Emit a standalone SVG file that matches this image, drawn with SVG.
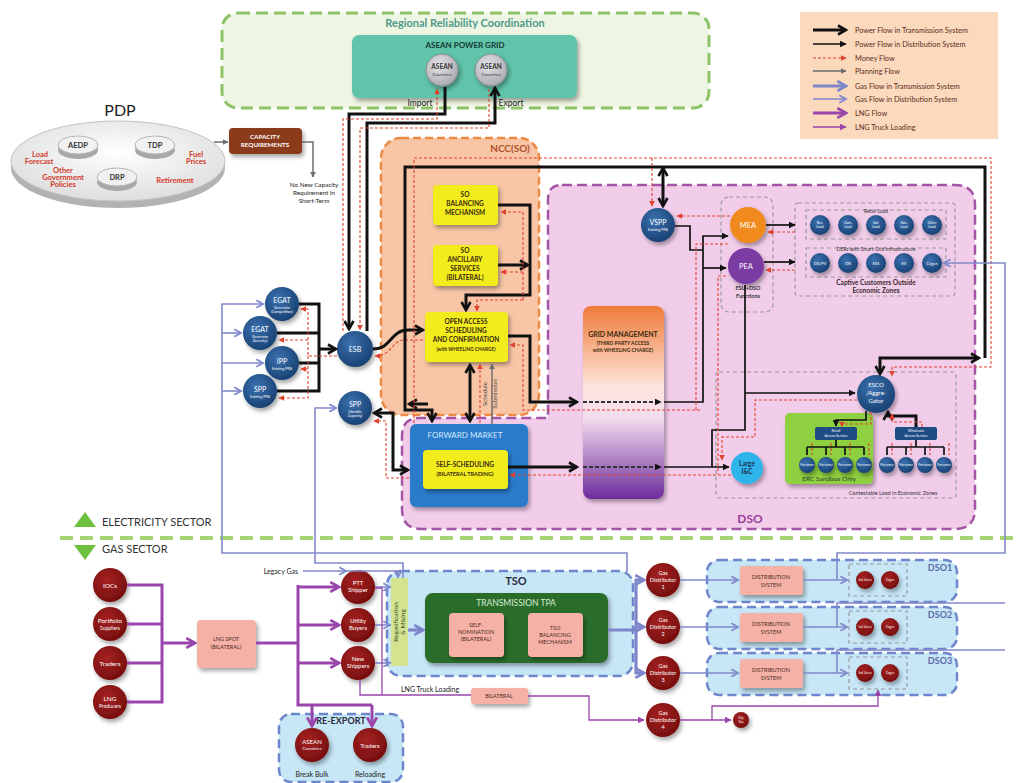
<svg xmlns="http://www.w3.org/2000/svg" width="1019" height="783" viewBox="0 0 1019 783">
<style>
text{font-family:Lato,"Open Sans","Liberation Sans",sans-serif}
.k3{fill:none;stroke:#111;stroke-width:3}
.k2{fill:none;stroke:#111;stroke-width:1.7}
.kd{fill:none;stroke:#333;stroke-width:2;stroke-dasharray:4 2}
.m{fill:none;stroke:#e2412e;stroke-width:1.1;stroke-dasharray:3 2}
.pl{fill:none;stroke:#6d6d6d;stroke-width:1.5}
.g3{fill:none;stroke:#7e86cb;stroke-width:3.2}
.g2{fill:none;stroke:#8189cc;stroke-width:1.6}
.l3{fill:none;stroke:#9a45ab;stroke-width:3}
.l1{fill:none;stroke:#9a45ab;stroke-width:1.3}
.bn{fill:url(#gb);filter:url(#sh)}
.rn{fill:url(#gr);filter:url(#sh)}
.wt{fill:#fff;text-anchor:middle}
.c{text-anchor:middle}
.yb{fill:#f2ec1e;filter:url(#sh)}
.pk{fill:#f6b1a6;filter:url(#sh)}
.dk{fill:#3a2a10;text-anchor:middle;font-weight:700}
.gbox{fill:#c7e6f6;stroke:#6d86cc;stroke-width:2.5;stroke-dasharray:9 5}
.gd{fill:none;stroke:#9a9a9a;stroke-width:1.2;stroke-dasharray:4 3}
.red{fill:#d2382a;font-weight:700;text-anchor:middle;font-size:7.5px}
.lg{fill:#5b2b22;font-size:7.3px}
</style>
<defs>
<filter id="sh" x="-30%" y="-30%" width="170%" height="170%"><feDropShadow dx="2" dy="3" stdDeviation="2" flood-color="#000" flood-opacity="0.35"/></filter>
<radialGradient id="gb" cx="0.4" cy="0.35" r="0.7"><stop offset="0" stop-color="#3b71b0"/><stop offset="1" stop-color="#173f70"/></radialGradient>
<radialGradient id="gr" cx="0.4" cy="0.35" r="0.7"><stop offset="0" stop-color="#a52222"/><stop offset="1" stop-color="#740d0d"/></radialGradient>
<radialGradient id="gs" cx="0.4" cy="0.35" r="0.7"><stop offset="0" stop-color="#e4e4e8"/><stop offset="1" stop-color="#a8a8ae"/></radialGradient>
<radialGradient id="gp" cx="0.5" cy="0.4" r="0.6"><stop offset="0" stop-color="#ffffff"/><stop offset="1" stop-color="#dedede"/></radialGradient>
<linearGradient id="gm" x1="0" y1="0" x2="0" y2="1"><stop offset="0" stop-color="#f07a38"/><stop offset="0.42" stop-color="#fde6dc"/><stop offset="0.58" stop-color="#f3dcee"/><stop offset="1" stop-color="#6d2c9c"/></linearGradient>
<marker id="a3" viewBox="0 0 12 12" refX="10" refY="6" markerWidth="12" markerHeight="12" markerUnits="userSpaceOnUse" orient="auto-start-reverse"><path d="M2,1.5 L10,6 L2,10.5" fill="none" stroke="#111" stroke-width="2.6"/></marker>
<marker id="a2" viewBox="0 0 10 10" refX="9" refY="5" markerWidth="7" markerHeight="7" markerUnits="userSpaceOnUse" orient="auto-start-reverse"><path d="M0,0 L10,5 L0,10 Z" fill="#111"/></marker>
<marker id="ar" viewBox="0 0 10 10" refX="9" refY="5" markerWidth="6" markerHeight="6" markerUnits="userSpaceOnUse" orient="auto-start-reverse"><path d="M0,0 L10,5 L0,10 Z" fill="#e2412e"/></marker>
<marker id="ag" viewBox="0 0 10 10" refX="9" refY="5" markerWidth="6" markerHeight="6" markerUnits="userSpaceOnUse" orient="auto-start-reverse"><path d="M0,0 L10,5 L0,10 Z" fill="#6d6d6d"/></marker>
<marker id="ag3" viewBox="0 0 12 12" refX="10" refY="6" markerWidth="13" markerHeight="13" markerUnits="userSpaceOnUse" orient="auto-start-reverse"><path d="M2,1.5 L10,6 L2,10.5" fill="none" stroke="#7e86cb" stroke-width="2.6"/></marker>
<marker id="ag2" viewBox="0 0 12 12" refX="10" refY="6" markerWidth="10" markerHeight="10" markerUnits="userSpaceOnUse" orient="auto-start-reverse"><path d="M2,1.5 L10,6 L2,10.5" fill="none" stroke="#8189cc" stroke-width="2.2"/></marker>
<marker id="al3" viewBox="0 0 12 12" refX="10" refY="6" markerWidth="13" markerHeight="13" markerUnits="userSpaceOnUse" orient="auto-start-reverse"><path d="M2,1.5 L10,6 L2,10.5" fill="none" stroke="#9a45ab" stroke-width="2.6"/></marker>
<marker id="al1" viewBox="0 0 10 10" refX="9" refY="5" markerWidth="7" markerHeight="7" markerUnits="userSpaceOnUse" orient="auto-start-reverse"><path d="M0,0 L10,5 L0,10 Z" fill="#9a45ab"/></marker>
</defs>

<rect width="1019" height="783" fill="#ffffff"/>

<!-- Regional coordination -->
<g id="regional">
<rect x="222" y="13" width="487" height="95" rx="16" fill="#eef6e3" stroke="#8cc366" stroke-width="3" stroke-dasharray="12 6"/>
<text x="465" y="27" class="c" font-size="11" font-weight="700" fill="#4f9a88">Regional Reliability Coordination</text>
</g>
<g id="asean-power-grid">
<rect x="352" y="35" width="225" height="63" rx="7" fill="#5ec4aa" filter="url(#sh)"/>
<text x="465" y="48" class="c" font-size="8" font-weight="700" fill="#173a33">ASEAN POWER GRID</text>
</g>
<g id="asean-import">
<circle cx="442" cy="70" r="16" fill="url(#gs)" stroke="#8e8e8e" filter="url(#sh)"/>
<text x="442" y="69" class="c" font-size="6.5" font-weight="700" fill="#333">ASEAN</text>
<text x="442" y="76" class="c" font-size="4.5" fill="#333">Countries</text>
<text x="420" y="106" class="c" font-size="8.5" fill="#222">Import</text>
</g>
<g id="asean-export">
<circle cx="491" cy="70" r="16" fill="url(#gs)" stroke="#8e8e8e" filter="url(#sh)"/>
<text x="491" y="69" class="c" font-size="6.5" font-weight="700" fill="#333">ASEAN</text>
<text x="491" y="76" class="c" font-size="4.5" fill="#333">Countries</text>
<text x="511" y="106" class="c" font-size="8.5" fill="#222">Export</text>
</g>

<!-- Legend -->
<g id="legend">
<rect x="800" y="12" width="198" height="127" fill="#fbd9bd"/>
<path d="M813,30 H846" class="k3" stroke-width="4" marker-end="url(#a3)"/>
<path d="M813,44 H846" class="k2" marker-end="url(#a2)"/>
<path d="M813,58 H846" class="m" marker-end="url(#ar)"/>
<path d="M813,71 H846" class="pl" marker-end="url(#ag)"/>
<path d="M813,86 H846" class="g3" stroke-width="4" marker-end="url(#ag3)"/>
<path d="M813,99 H846" class="g2" stroke-width="2" marker-end="url(#ag2)"/>
<path d="M813,113 H846" class="l3" stroke-width="4" marker-end="url(#al3)"/>
<path d="M813,127 H846" class="l1" stroke-width="1.6" marker-end="url(#al1)"/>
<text x="855" y="33" class="lg">Power Flow in Transmission System</text>
<text x="855" y="47" class="lg">Power Flow in Distribution System</text>
<text x="855" y="61" class="lg">Money Flow</text>
<text x="855" y="74" class="lg">Planning Flow</text>
<text x="855" y="89" class="lg">Gas Flow in Transmission System</text>
<text x="855" y="102" class="lg">Gas Flow in Distribution System</text>
<text x="855" y="116" class="lg">LNG Flow</text>
<text x="855" y="130" class="lg">LNG Truck Loading</text>
</g>

<!-- PDP -->
<g id="pdp">
<text x="120" y="116" class="c" font-size="16" fill="#222" font-family="Liberation Sans, sans-serif">PDP</text>
<ellipse cx="118" cy="168" rx="107" ry="40" fill="#b3b3b3"/>
<ellipse cx="118" cy="161" rx="107" ry="40" fill="url(#gp)" stroke="#c2c2c2"/>
<ellipse cx="78" cy="150" rx="20" ry="9" fill="#a8a8a8"/>
<ellipse cx="78" cy="145" rx="20" ry="9" fill="#f1f1f1" stroke="#b5b5b5"/>
<text x="78" y="148" class="c" font-size="7.5" font-weight="700" fill="#333">AEDP</text>
<ellipse cx="155" cy="150" rx="20" ry="9" fill="#a8a8a8"/>
<ellipse cx="155" cy="145" rx="20" ry="9" fill="#f1f1f1" stroke="#b5b5b5"/>
<text x="155" y="148" class="c" font-size="7.5" font-weight="700" fill="#333">TDP</text>
<ellipse cx="117" cy="182" rx="20" ry="9" fill="#a8a8a8"/>
<ellipse cx="117" cy="177" rx="20" ry="9" fill="#f1f1f1" stroke="#b5b5b5"/>
<text x="117" y="180" class="c" font-size="7.5" font-weight="700" fill="#333">DRP</text>
<text x="40" y="157" class="red">Load</text>
<text x="39" y="164" class="red">Forecast</text>
<text x="196" y="157" class="red">Fuel</text>
<text x="196" y="164" class="red">Prices</text>
<text x="63" y="173" class="red">Other</text>
<text x="63" y="180" class="red">Government</text>
<text x="63" y="187" class="red">Policies</text>
<text x="175" y="183" class="red">Retirement</text>
</g>
<g id="capacity-requirements">
<rect x="229" y="128" width="73" height="26" rx="4" fill="#8a3a1c" filter="url(#sh)"/>
<text x="265" y="139" class="wt" font-size="6.3" font-weight="700">CAPACITY</text>
<text x="265" y="147" class="wt" font-size="6.3" font-weight="700">REQUIREMENTS</text>
</g>
<g id="no-new-capacity">
<text x="314" y="187" class="c" font-size="6.3" fill="#222">No New Capacity</text>
<text x="314" y="195" class="c" font-size="6.3" fill="#222">Requirement In</text>
<text x="314" y="203" class="c" font-size="6.3" fill="#222">Short-Term</text>
</g>

<!-- DSO area -->
<g id="dso">
<path d="M562,185 H955 Q975,185 975,205 V509 Q975,529 955,529 H422 Q402,529 402,509 V436 Q402,418 420,418 H548 V199 Q548,185 562,185 Z" fill="#f2cdea" stroke="#a455a6" stroke-width="2.5" stroke-dasharray="10 5"/>
<text x="750" y="523" class="c" font-size="12" font-weight="700" fill="#9a3a9a">DSO</text>
</g>

<!-- NCC -->
<g id="ncc">
<rect x="381" y="138" width="158" height="277" rx="20" fill="#f8c6a6" stroke="#ec8a44" stroke-width="2.5" stroke-dasharray="8 4"/>
<text x="510" y="152" class="c" font-size="10" font-weight="700" fill="#b0502a">NCC(SO)</text>
</g>
<g id="so-balancing">
<rect x="433" y="185" width="65" height="40" rx="4" class="yb"/>
<text x="465" y="197" class="dk" font-size="6.5">SO</text>
<text x="465" y="206" class="dk" font-size="6.5">BALANCING</text>
<text x="465" y="215" class="dk" font-size="6.5">MECHANISM</text>
</g>
<g id="so-ancillary">
<rect x="433" y="245" width="65" height="41" rx="4" class="yb"/>
<text x="465" y="253" class="dk" font-size="6.5">SO</text>
<text x="465" y="262" class="dk" font-size="6.5">ANCILLARY</text>
<text x="465" y="271" class="dk" font-size="6.5">SERVICES</text>
<text x="465" y="280" class="dk" font-size="6.5">(BILATERAL)</text>
</g>
<g id="open-access">
<rect x="425" y="312" width="83" height="50" rx="4" class="yb"/>
<text x="466" y="324" class="dk" font-size="6.5">OPEN ACCESS</text>
<text x="466" y="333" class="dk" font-size="6.5">SCHEDULING</text>
<text x="466" y="342" class="dk" font-size="6.5">AND CONFIRMATION</text>
<text x="466" y="351" class="dk" font-size="4.8">(with WHEELING CHARGE)</text>
</g>

<g id="forward-market">
<rect x="410" y="424" width="118" height="83" rx="6" fill="#2b7ccb" filter="url(#sh)"/>
<text x="465" y="438" class="c" font-size="8" fill="#d6e8ff">FORWARD MARKET</text>
<rect x="423" y="450" width="85" height="39" rx="4" class="yb"/>
<text x="465" y="467" class="dk" font-size="6.5">SELF-SCHEDULING</text>
<text x="465" y="476" class="dk" font-size="5.5">(BILATERAL TRADING)</text>
</g>

<g id="grid-management">
<rect x="583" y="306" width="81" height="193" rx="8" fill="url(#gm)" filter="url(#sh)"/>
<text x="623" y="337" class="dk" font-size="7">GRID MANAGEMENT</text>
<text x="623" y="345" class="dk" font-size="5">(THIRD PARTY ACCESS</text>
<text x="623" y="352" class="dk" font-size="5">with WHEELING CHARGE)</text>
</g>

<!-- Generators -->
<g id="egat-competition"><circle cx="282" cy="304" r="17" class="bn"/><text x="282" y="303" class="wt" font-size="7">EGAT</text><text x="282" y="309" class="wt" font-size="3.6">Generator</text><text x="282" y="313" class="wt" font-size="3.6">(Competition)</text></g>
<g id="egat-security"><circle cx="260" cy="333" r="17" class="bn"/><text x="260" y="332" class="wt" font-size="7">EGAT</text><text x="260" y="338" class="wt" font-size="3.6">Generator</text><text x="260" y="342" class="wt" font-size="3.6">(Security)</text></g>
<g id="ipp"><circle cx="282" cy="363" r="17" class="bn"/><text x="282" y="364" class="wt" font-size="7">IPP</text><text x="282" y="370" class="wt" font-size="3.6">Existing PPA</text></g>
<g id="spp-existing"><circle cx="260" cy="391" r="17" class="bn"/><text x="260" y="392" class="wt" font-size="7">SPP</text><text x="260" y="398" class="wt" font-size="3.6">Existing PPA</text></g>
<g id="esb"><circle cx="355" cy="349" r="18" class="bn"/><text x="355" y="352" class="wt" font-size="7">ESB</text></g>
<g id="spp-new"><circle cx="355" cy="408" r="17" class="bn"/><text x="355" y="407" class="wt" font-size="7">SPP</text><text x="355" y="413" class="wt" font-size="3.6">(Variable</text><text x="355" y="417" class="wt" font-size="3.6">Capacity)</text></g>
<g id="vspp"><circle cx="658" cy="225" r="17" class="bn"/><text x="658" y="225" class="wt" font-size="7">VSPP</text><text x="658" y="231" class="wt" font-size="3.6">Existing PPA</text></g>

<!-- ESU + DSO functions -->
<g id="esu-dso">
<rect x="721" y="197" width="52" height="115" rx="8" class="gd"/>
<circle cx="748" cy="225" r="18" fill="#f18a1f" filter="url(#sh)"/><text x="748" y="228" class="wt" font-size="7.5">MEA</text>
<circle cx="746" cy="266" r="18" fill="#7a3aa3" filter="url(#sh)"/><text x="746" y="269" class="wt" font-size="7.5">PEA</text>
<text x="748" y="290" class="c" font-size="5.5" font-weight="700" fill="#333">ESU+DSO</text>
<text x="748" y="298" class="c" font-size="5.5" font-weight="700" fill="#333">Functions</text>
</g>

<g id="captive-customers">
<rect x="795" y="203" width="160" height="93" rx="3" class="gd"/>
<rect x="806" y="210" width="140" height="29" class="gd"/>
<text x="876" y="213" class="c" font-size="5" fill="#333">Retail Load</text>
<circle cx="820" cy="225" r="10" class="bn"/><text x="820" y="224" class="wt" font-size="3.5">Res.</text><text x="820" y="228" class="wt" font-size="3.5">Load</text>
<circle cx="848" cy="225" r="10" class="bn"/><text x="848" y="224" class="wt" font-size="3.5">Com.</text><text x="848" y="228" class="wt" font-size="3.5">Load</text>
<circle cx="876" cy="225" r="10" class="bn"/><text x="876" y="224" class="wt" font-size="3.5">Ind.</text><text x="876" y="228" class="wt" font-size="3.5">Load</text>
<circle cx="904" cy="225" r="10" class="bn"/><text x="904" y="224" class="wt" font-size="3.5">Gov.</text><text x="904" y="228" class="wt" font-size="3.5">Load</text>
<circle cx="932" cy="225" r="10" class="bn"/><text x="932" y="224" class="wt" font-size="3.5">Other</text><text x="932" y="228" class="wt" font-size="3.5">Load</text>
<rect x="806" y="248" width="140" height="29" class="gd"/>
<text x="876" y="251" class="c" font-size="5" fill="#333">DERs with Smart Grid Infrastructure</text>
<circle cx="820" cy="263" r="10" class="bn"/><text x="820" y="265" class="wt" font-size="4">DG/PV</text>
<circle cx="848" cy="263" r="10" class="bn"/><text x="848" y="265" class="wt" font-size="4">DR</text>
<circle cx="876" cy="263" r="10" class="bn"/><text x="876" y="265" class="wt" font-size="4">ESS</text>
<circle cx="904" cy="263" r="10" class="bn"/><text x="904" y="265" class="wt" font-size="4">EV</text>
<circle cx="932" cy="263" r="10" class="bn"/><text x="932" y="265" class="wt" font-size="4">Cogen</text>
<text x="876" y="285" class="c" font-size="6.5" font-weight="700" fill="#3a2a2a">Captive Customers Outside</text>
<text x="876" y="293" class="c" font-size="6.5" font-weight="700" fill="#3a2a2a">Economic Zones</text>
</g>

<g id="contestable-load">
<rect x="716" y="372" width="240" height="126" rx="3" class="gd"/>
<text x="893" y="495" class="c" font-size="5.5" fill="#333">Contestable Load in Economic Zones</text>
</g>
<g id="erc-sandbox">
<rect x="785" y="413" width="88" height="71" rx="5" fill="#8fd03f" filter="url(#sh)"/>
<text x="829" y="481" class="c" font-size="6.5" fill="#2a3a2a">ERC Sandbox Only</text>
<rect x="815" y="427" width="42" height="13" rx="2" fill="#1d4c85"/>
<text x="836" y="432" class="wt" font-size="3.6">Retail</text><text x="836" y="437" class="wt" font-size="3.6">Access Service</text>
<circle cx="807" cy="465" r="8" class="bn"/><circle cx="826" cy="465" r="8" class="bn"/><circle cx="845" cy="465" r="8" class="bn"/><circle cx="864" cy="465" r="8" class="bn"/>
<text x="807" y="466" class="wt" font-size="3">Pro-sumer</text><text x="826" y="466" class="wt" font-size="3">Pro-sumer</text><text x="845" y="466" class="wt" font-size="3">Pro-sumer</text><text x="864" y="466" class="wt" font-size="3">Pro-sumer</text>
</g>
<g id="wholesale-access">
<rect x="895" y="427" width="42" height="13" rx="2" fill="#1d4c85"/>
<text x="916" y="432" class="wt" font-size="3.6">Wholesale</text><text x="916" y="437" class="wt" font-size="3.6">Access Service</text>
<circle cx="887" cy="465" r="8" class="bn"/><circle cx="906" cy="465" r="8" class="bn"/><circle cx="925" cy="465" r="8" class="bn"/><circle cx="944" cy="465" r="8" class="bn"/>
<text x="887" y="466" class="wt" font-size="3">Pro-sumer</text><text x="906" y="466" class="wt" font-size="3">Pro-sumer</text><text x="925" y="466" class="wt" font-size="3">Pro-sumer</text><text x="944" y="466" class="wt" font-size="3">Pro-sumer</text>
</g>
<g id="esco"><circle cx="876" cy="394" r="19" class="bn"/><text x="876" y="387" class="wt" font-size="6">ESCO</text><text x="876" y="395" class="wt" font-size="6">/Aggre-</text><text x="876" y="403" class="wt" font-size="6">Gator</text></g>
<g id="large-ic"><circle cx="747" cy="468" r="16" fill="#2fb3ea" filter="url(#sh)"/><text x="747" y="466" class="c" font-size="6.5" font-weight="700" fill="#1c3050">Large</text><text x="747" y="474" class="c" font-size="6.5" font-weight="700" fill="#1c3050">I&amp;C</text></g>

<!-- Sector divider -->
<g id="sector-divider">
<path d="M60,538 H1019" stroke="#a5d472" stroke-width="4" stroke-dasharray="13 7"/>
<path d="M74,527 L85,512 L96,527 Z" fill="#6fbf3e"/>
<text x="102" y="526" font-size="11" fill="#333">ELECTRICITY SECTOR</text>
<path d="M74,545 L96,545 L85,560 Z" fill="#6fbf3e"/>
<text x="102" y="553" font-size="11" fill="#333">GAS SECTOR</text>
</g>

<!-- Gas sector -->
<g id="iocs"><circle cx="110" cy="585" r="17" class="rn"/><text x="110" y="588" class="wt" font-size="6.5">IOCs</text></g>
<g id="portfolio-suppliers"><circle cx="110" cy="624" r="17" class="rn"/><text x="110" y="623" class="wt" font-size="6.5">Portfolio</text><text x="110" y="630" class="wt" font-size="5">Suppliers</text></g>
<g id="traders"><circle cx="110" cy="663" r="17" class="rn"/><text x="110" y="666" class="wt" font-size="6.5">Traders</text></g>
<g id="lng-producers"><circle cx="110" cy="702" r="17" class="rn"/><text x="110" y="701" class="wt" font-size="6.5">LNG</text><text x="110" y="708" class="wt" font-size="5">Producers</text></g>
<g id="lng-spot">
<rect x="197" y="620" width="59" height="48" rx="4" class="pk"/>
<text x="226" y="641" class="c" font-size="5.5" fill="#4a2a22">LNG SPOT</text>
<text x="226" y="649" class="c" font-size="5.5" fill="#4a2a22">(BILATERAL)</text>
</g>
<g id="ptt-shipper"><circle cx="358" cy="587" r="17" class="rn"/><text x="358" y="585" class="wt" font-size="6">PTT</text><text x="358" y="592" class="wt" font-size="6">Shipper</text></g>
<g id="utility-buyers"><circle cx="358" cy="625" r="17" class="rn"/><text x="358" y="623" class="wt" font-size="6">Utility</text><text x="358" y="630" class="wt" font-size="6">Buyers</text></g>
<g id="new-shippers"><circle cx="358" cy="663" r="17" class="rn"/><text x="358" y="661" class="wt" font-size="6">New</text><text x="358" y="668" class="wt" font-size="6">Shippers</text></g>
<g id="legacy-gas"><text x="298" y="574" font-size="7" fill="#222" text-anchor="end">Legacy Gas</text></g>

<g id="re-export">
<rect x="279" y="714" width="124" height="68" rx="12" class="gbox"/>
<text x="341" y="724" class="c" font-size="9" font-weight="700" fill="#2a2a3a">RE-EXPORT</text>
<circle cx="312" cy="745" r="17" class="rn"/><text x="312" y="744" class="wt" font-size="6">ASEAN</text><text x="312" y="750" class="wt" font-size="4.5">Countries</text>
<circle cx="370" cy="745" r="17" class="rn"/><text x="370" y="748" class="wt" font-size="6">Traders</text>
<text x="312" y="777" class="c" font-size="7" fill="#222">Break Bulk</text>
<text x="370" y="777" class="c" font-size="7" fill="#222">Reloading</text>
</g>

<g id="tso">
<rect x="387" y="571" width="246" height="105" rx="14" class="gbox"/>
<text x="516" y="585" class="c" font-size="11" font-weight="700" fill="#2a2a3a">TSO</text>
</g>
<g id="regasification">
<rect x="391" y="578" width="17" height="88" fill="#d3e38f"/>
<text transform="translate(398,622) rotate(-90)" class="c" font-size="6.5" fill="#3a4a2a">Regasification</text>
<text transform="translate(405,622) rotate(-90)" class="c" font-size="6.5" fill="#3a4a2a">&amp; Mixing</text>
</g>
<g id="transmission-tpa">
<rect x="425" y="593" width="183" height="70" rx="8" fill="#2b6d2c" filter="url(#sh)"/>
<text x="516" y="606" class="c" font-size="8.5" fill="#d8ecd8">TRANSMISSION TPA</text>
<rect x="449" y="613" width="55" height="44" rx="4" class="pk"/>
<text x="476" y="627" class="c" font-size="5.5" fill="#4a2a22">SELF-</text>
<text x="476" y="634" class="c" font-size="5.5" fill="#4a2a22">NOMINATION</text>
<text x="476" y="641" class="c" font-size="5.5" fill="#4a2a22">(BILATERAL)</text>
<rect x="528" y="613" width="55" height="44" rx="4" class="pk"/>
<text x="555" y="630" class="c" font-size="5.5" fill="#4a2a22">TSO</text>
<text x="555" y="637" class="c" font-size="5.5" fill="#4a2a22">BALANCING</text>
<text x="555" y="644" class="c" font-size="5.5" fill="#4a2a22">MECHANISM</text>
</g>
<g id="lng-truck-loading">
<text x="430" y="692" class="c" font-size="7" fill="#222">LNG Truck Loading</text>
<rect x="471" y="688" width="57" height="16" rx="3" class="pk"/>
<text x="499" y="698" class="c" font-size="5.5" fill="#4a2a22">BILATERAL</text>
</g>

<g id="gas-distributor-1"><circle cx="663" cy="580" r="17" class="rn"/><text x="663" y="575" class="wt" font-size="5.5">Gas</text><text x="663" y="582" class="wt" font-size="5.5">Distributor</text><text x="663" y="589" class="wt" font-size="5.5">1</text></g>
<g id="gas-distributor-2"><circle cx="663" cy="627" r="17" class="rn"/><text x="663" y="622" class="wt" font-size="5.5">Gas</text><text x="663" y="629" class="wt" font-size="5.5">Distributor</text><text x="663" y="636" class="wt" font-size="5.5">2</text></g>
<g id="gas-distributor-3"><circle cx="663" cy="673" r="17" class="rn"/><text x="663" y="668" class="wt" font-size="5.5">Gas</text><text x="663" y="675" class="wt" font-size="5.5">Distributor</text><text x="663" y="682" class="wt" font-size="5.5">3</text></g>
<g id="gas-distributor-4"><circle cx="663" cy="720" r="17" class="rn"/><text x="663" y="715" class="wt" font-size="5.5">Gas</text><text x="663" y="722" class="wt" font-size="5.5">Distributor</text><text x="663" y="729" class="wt" font-size="5.5">4</text></g>
<g id="city-gas"><circle cx="741" cy="720" r="8" class="rn"/><text x="741" y="719" class="wt" font-size="3">City</text><text x="741" y="723" class="wt" font-size="3">Gas</text></g>

<g id="dso1">
<rect x="707" y="560" width="250" height="42" rx="12" class="gbox"/>
<text x="940" y="571" class="c" font-size="9" font-weight="700" fill="#5a6aa8">DSO1</text>
<rect x="740" y="566" width="63" height="29" rx="3" class="pk"/>
<text x="771" y="579" class="c" font-size="5.5" fill="#4a2a22">DISTRIBUTION</text><text x="771" y="587" class="c" font-size="5.5" fill="#4a2a22">SYSTEM</text>
<rect x="849" y="564" width="58" height="32" class="gd"/>
<circle cx="865" cy="580" r="9" class="rn"/><text x="865" y="581" class="wt" font-size="3">Ind. Users</text>
<circle cx="890" cy="580" r="9" class="rn"/><text x="890" y="581" class="wt" font-size="3">Cogen</text>
</g>
<g id="dso2">
<rect x="707" y="607" width="250" height="42" rx="12" class="gbox"/>
<text x="940" y="618" class="c" font-size="9" font-weight="700" fill="#5a6aa8">DSO2</text>
<rect x="740" y="613" width="63" height="29" rx="3" class="pk"/>
<text x="771" y="626" class="c" font-size="5.5" fill="#4a2a22">DISTRIBUTION</text><text x="771" y="634" class="c" font-size="5.5" fill="#4a2a22">SYSTEM</text>
<rect x="849" y="611" width="58" height="32" class="gd"/>
<circle cx="865" cy="627" r="9" class="rn"/><text x="865" y="628" class="wt" font-size="3">Ind. Users</text>
<circle cx="890" cy="627" r="9" class="rn"/><text x="890" y="628" class="wt" font-size="3">Cogen</text>
</g>
<g id="dso3">
<rect x="707" y="653" width="250" height="42" rx="12" class="gbox"/>
<text x="940" y="664" class="c" font-size="9" font-weight="700" fill="#5a6aa8">DSO3</text>
<rect x="740" y="659" width="63" height="29" rx="3" class="pk"/>
<text x="771" y="672" class="c" font-size="5.5" fill="#4a2a22">DISTRIBUTION</text><text x="771" y="680" class="c" font-size="5.5" fill="#4a2a22">SYSTEM</text>
<rect x="849" y="657" width="58" height="32" class="gd"/>
<circle cx="865" cy="673" r="9" class="rn"/><text x="865" y="674" class="wt" font-size="3">Ind. Users</text>
<circle cx="890" cy="673" r="9" class="rn"/><text x="890" y="674" class="wt" font-size="3">Cogen</text>
</g>

<!-- Connectors -->
<g id="connectors">
<!-- planning -->
<path d="M214,142 H228" class="pl" stroke-width="1" marker-end="url(#ag)"/>
<path d="M302,142 H313 V177" class="pl" stroke-width="1" marker-end="url(#ag)"/>
<!-- cross-border -->
<path d="M445,87 V114 H349 V329" class="k3" marker-end="url(#a3)"/>
<path d="M343,331 V119 H437 V89" class="m" marker-end="url(#ar)"/>
<path d="M367,331 V123 H495 V88" class="k3" marker-end="url(#a3)"/>
<path d="M489,89 V128 H360 V330" class="m" marker-end="url(#ar)"/>
<!-- generators to ESB -->
<path d="M299,304 H319 V391 H277 M277,333 H319 M299,363 H319" class="k3"/>
<path d="M319,349 H336" class="k3" marker-end="url(#a3)"/>
<path d="M337,356 H308 V309 H301" class="m" marker-end="url(#ar)"/>
<path d="M308,340 H279" class="m" marker-end="url(#ar)"/>
<path d="M308,369 H301" class="m" marker-end="url(#ar)"/>
<path d="M308,356 V398 H279" class="m" marker-end="url(#ar)"/>
<!-- ESB to NCC -->
<path d="M373,349 C392,349 390,330 408,330 H423" class="k3" marker-end="url(#a3)"/>
<path d="M423,340 H404 C392,340 392,356 375,356" class="m" marker-end="url(#ar)"/>
<!-- inside NCC -->
<path d="M498,205 H530 V295 H466 V310" class="k3" marker-end="url(#a3)"/>
<path d="M498,265 H528" class="k3" marker-end="url(#a3)"/>
<path d="M523,300 V212 H501" class="m" marker-end="url(#ar)"/>
<path d="M523,272 H501" class="m" marker-end="url(#ar)"/>
<path d="M523,300 H477 V311" class="m" marker-end="url(#ar)"/>
<path d="M470,365 V421" class="k3" marker-start="url(#a3)" marker-end="url(#a3)"/>
<path d="M480,423 V364" class="m" marker-end="url(#ar)"/>
<path d="M492,424 V364" class="pl" marker-end="url(#ag)"/>
<text transform="translate(487,394) rotate(-90)" class="c" font-size="6" fill="#444">Schedule</text>
<text transform="translate(497,394) rotate(-90)" class="c" font-size="6" fill="#444">Submission</text>
<!-- outer loop -->
<path d="M985,358 V167 H405 V410 H432 V421" class="k3" marker-end="url(#a3)"/>
<path d="M428,404 H409" class="k3" marker-end="url(#a3)"/>
<path d="M880,374 V358 H979" class="k3" marker-start="url(#a3)" marker-end="url(#a3)"/>
<path d="M414,423 V158 H991 V367 H892 V376" class="m" marker-end="url(#ar)"/>
<path d="M663,168 V206" class="k3" marker-start="url(#a3)" marker-end="url(#a3)"/>
<path d="M652,158 V206" class="m" marker-end="url(#ar)"/>
<!-- scheduling to grid -->
<path d="M508,336 H530 V402 H577" class="k3" marker-end="url(#a3)"/>
<path d="M583,402 H661" class="kd" marker-end="url(#a2)"/>
<path d="M700,410 H523 V345 H510" class="m" marker-end="url(#ar)"/>
<path d="M508,467 H577" class="k3" marker-end="url(#a3)"/>
<path d="M583,467 H661" class="kd" marker-end="url(#a2)"/>
<path d="M731,475 H510" class="m" marker-end="url(#ar)"/>
<!-- SPP to forward market -->
<path d="M374,413 H393 V470 H408" class="k3" marker-start="url(#a3)" marker-end="url(#a3)"/>
<path d="M409,478 H386 V421 H374" class="m" marker-end="url(#ar)"/>
<!-- distribution network -->
<path d="M664,402 H703 V236 H728" class="k2" marker-end="url(#a2)"/>
<path d="M703,268 H726" class="k2" marker-end="url(#a2)"/>
<path d="M675,226 H690 V250 H703" class="k2"/>
<path d="M664,467 H729" class="k2" marker-end="url(#a2)"/>
<path d="M712,467 V430 H745 V285" class="k2"/>
<path d="M745,393 H855" class="k2" marker-end="url(#a2)"/>
<path d="M730,216 H677" class="m" marker-end="url(#ar)"/>
<path d="M728,244 H696 V410" class="m"/>
<path d="M726,276 H718 V474" class="m"/>
<path d="M857,400 H755 V437 H722 V460" class="m" marker-end="url(#ar)"/>
<path d="M766,225 H795" class="k2" marker-end="url(#a2)"/>
<path d="M795,232 H768" class="m" marker-end="url(#ar)"/>
<path d="M764,262 H795" class="k2" marker-end="url(#a2)"/>
<path d="M795,270 H766" class="m" marker-end="url(#ar)"/>
<!-- ESCO and access services -->
<path d="M866,411 V420 H836 V426" class="k2" marker-end="url(#a2)"/>
<path d="M871,412 V424 H842 V427" class="m" marker-end="url(#ar)"/>
<path d="M836,440 V447 M807,447 H864 M807,447 V455 M826,447 V455 M845,447 V455 M864,447 V455" class="k2"/>
<path d="M916,427 V416 H888 V412" class="k3" marker-end="url(#a3)"/>
<path d="M922,427 V422 H892 V414" class="m" marker-end="url(#ar)"/>
<path d="M916,440 V447 M887,447 H944 M887,447 V455 M906,447 V455 M925,447 V455 M944,447 V455" class="k2"/>
<path d="M812,443 V455 M831,443 V455 M850,443 V455 M869,443 V455" class="m"/>
<path d="M892,443 V455 M911,443 V455 M930,443 V455 M949,443 V455" class="m"/>
<!-- gas to power plants -->
<path d="M627,572 V553 H222 V304 H263" class="g2" stroke-width="2.2" marker-end="url(#ag2)"/>
<path d="M222,333 H241" class="g2" stroke-width="2.2" marker-end="url(#ag2)"/>
<path d="M222,363 H263" class="g2" stroke-width="2.2" marker-end="url(#ag2)"/>
<path d="M222,391 H241" class="g2" stroke-width="2.2" marker-end="url(#ag2)"/>
<path d="M403,578 V563 H315 V408 H336" class="g2" stroke-width="2.2" marker-end="url(#ag2)"/>
<path d="M303,571 H346" class="g2" stroke-width="2.2" marker-end="url(#ag2)"/>
<path d="M346,571 H398 V577" class="g2" stroke-width="2.2" marker-end="url(#ag2)"/>
<!-- LNG supply -->
<path d="M127,585 H162 V702 H127 M127,624 H162 M127,663 H162" class="l3"/>
<path d="M162,643 H195" class="l3" marker-end="url(#al3)"/>
<path d="M256,643 H298 M298,585 V705 H372" class="l3"/>
<path d="M298,587 H339" class="l3" marker-end="url(#al3)"/>
<path d="M298,625 H339" class="l3" marker-end="url(#al3)"/>
<path d="M298,663 H339" class="l3" marker-end="url(#al3)"/>
<path d="M312,705 V726" class="l3" marker-end="url(#al3)"/>
<path d="M372,705 V726" class="l3" marker-end="url(#al3)"/>
<!-- shippers into TSO -->
<path d="M375,587 H390" class="g2" stroke-width="2" marker-end="url(#ag2)"/>
<path d="M375,625 H390" class="g2" stroke-width="2" marker-end="url(#ag2)"/>
<path d="M375,663 H390" class="g2" stroke-width="2" marker-end="url(#ag2)"/>
<path d="M408,630 H423" class="g3" marker-end="url(#ag3)"/>
<path d="M608,630 H636 V580 H644" class="g3" marker-end="url(#ag3)"/>
<path d="M636,627 H644" class="g3" marker-end="url(#ag3)"/>
<path d="M636,627 V673 H644" class="g3" marker-end="url(#ag3)"/>
<!-- gas distribution -->
<path d="M680,580 H738" class="g2" marker-end="url(#ag2)"/>
<path d="M680,627 H738" class="g2" marker-end="url(#ag2)"/>
<path d="M680,673 H738" class="g2" marker-end="url(#ag2)"/>
<path d="M803,580 H847" class="g2" marker-end="url(#ag2)"/>
<path d="M803,627 H847" class="g2" marker-end="url(#ag2)"/>
<path d="M803,673 H847" class="g2" marker-end="url(#ag2)"/>
<path d="M837,580 V553 H1005 V263 H944" class="g2" marker-end="url(#ag2)"/>
<path d="M837,627 V603 H1005" class="g2"/>
<path d="M837,673 V650 H1005" class="g2"/>
<!-- LNG truck loading -->
<path d="M375,588 H382 V695 M360,680 V695 H471" class="l1"/>
<path d="M528,696 H589 V720 H644" class="l1" marker-end="url(#al1)"/>
<path d="M680,720 H731" class="l1" marker-end="url(#al1)"/>
<path d="M712,720 V706 H878 V690" class="l1" marker-end="url(#al1)"/>
</g>
</svg>
